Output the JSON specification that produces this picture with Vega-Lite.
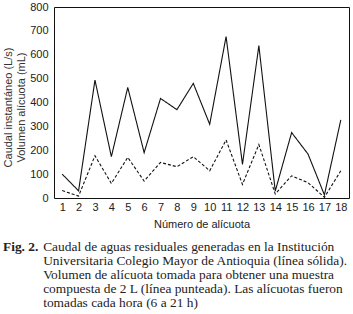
{
  "$schema": "https://vega.github.io/schema/vega-lite/v6.json",
  "autosize": "none",
  "width": 295,
  "height": 191,
  "padding": {"left": 54, "top": 7, "right": 4, "bottom": 116},
  "background": "white",
  "config": {
    "view": {"stroke": "#111", "strokeWidth": 1},
    "font": "Liberation Sans"
  },
  "title": {
    "text": "Fig. 2.",
    "subtitle": [
      "\u200b\u00a0\u00a0\u00a0\u00a0\u00a0\u00a0\u00a0\u00a0\u00a0\u00a0\u00a0\u00a0Caudal de aguas residuales generadas en la Institución",
      "\u200b\u00a0\u00a0\u00a0\u00a0\u00a0\u00a0\u00a0\u00a0\u00a0\u00a0\u00a0\u00a0Universitaria Colegio Mayor de Antioquia (línea sólida).",
      "\u200b\u00a0\u00a0\u00a0\u00a0\u00a0\u00a0\u00a0\u00a0\u00a0\u00a0\u00a0\u00a0Volumen de alícuota tomada para obtener una muestra",
      "\u200b\u00a0\u00a0\u00a0\u00a0\u00a0\u00a0\u00a0\u00a0\u00a0\u00a0\u00a0\u00a0compuesta de 2 L (línea punteada). Las alícuotas fueron",
      "\u200b\u00a0\u00a0\u00a0\u00a0\u00a0\u00a0\u00a0\u00a0\u00a0\u00a0\u00a0\u00a0tomadas cada hora (6 a 21 h)"
    ],
    "orient": "bottom",
    "anchor": "start",
    "frame": "group",
    "dx": -51,
    "offset": 11,
    "font": "Liberation Serif",
    "fontSize": 13.4,
    "fontWeight": "bold",
    "color": "#222",
    "subtitleFont": "Liberation Serif",
    "subtitleFontSize": 13.4,
    "subtitleColor": "#222",
    "subtitleLineHeight": 14,
    "subtitlePadding": -13.4
  },
  "data": {
    "values": [
      {"alicuota": 1, "serie": "Caudal", "valor": 100},
      {"alicuota": 2, "serie": "Caudal", "valor": 30},
      {"alicuota": 3, "serie": "Caudal", "valor": 494},
      {"alicuota": 4, "serie": "Caudal", "valor": 173},
      {"alicuota": 5, "serie": "Caudal", "valor": 463},
      {"alicuota": 6, "serie": "Caudal", "valor": 190},
      {"alicuota": 7, "serie": "Caudal", "valor": 417},
      {"alicuota": 8, "serie": "Caudal", "valor": 370},
      {"alicuota": 9, "serie": "Caudal", "valor": 480},
      {"alicuota": 10, "serie": "Caudal", "valor": 309},
      {"alicuota": 11, "serie": "Caudal", "valor": 676},
      {"alicuota": 12, "serie": "Caudal", "valor": 141},
      {"alicuota": 13, "serie": "Caudal", "valor": 638},
      {"alicuota": 14, "serie": "Caudal", "valor": 29},
      {"alicuota": 15, "serie": "Caudal", "valor": 274},
      {"alicuota": 16, "serie": "Caudal", "valor": 184},
      {"alicuota": 17, "serie": "Caudal", "valor": 13},
      {"alicuota": 18, "serie": "Caudal", "valor": 327},
      {"alicuota": 1, "serie": "Volumen", "valor": 31},
      {"alicuota": 2, "serie": "Volumen", "valor": 8},
      {"alicuota": 3, "serie": "Volumen", "valor": 177},
      {"alicuota": 4, "serie": "Volumen", "valor": 61},
      {"alicuota": 5, "serie": "Volumen", "valor": 170},
      {"alicuota": 6, "serie": "Volumen", "valor": 71},
      {"alicuota": 7, "serie": "Volumen", "valor": 149},
      {"alicuota": 8, "serie": "Volumen", "valor": 131},
      {"alicuota": 9, "serie": "Volumen", "valor": 173},
      {"alicuota": 10, "serie": "Volumen", "valor": 114},
      {"alicuota": 11, "serie": "Volumen", "valor": 243},
      {"alicuota": 12, "serie": "Volumen", "valor": 57},
      {"alicuota": 13, "serie": "Volumen", "valor": 224},
      {"alicuota": 14, "serie": "Volumen", "valor": 17},
      {"alicuota": 15, "serie": "Volumen", "valor": 93},
      {"alicuota": 16, "serie": "Volumen", "valor": 64},
      {"alicuota": 17, "serie": "Volumen", "valor": 3},
      {"alicuota": 18, "serie": "Volumen", "valor": 114}
    ]
  },
  "mark": {"type": "line", "color": "#111", "strokeWidth": 1.1},
  "encoding": {
    "x": {
      "field": "alicuota",
      "type": "ordinal",
      "sort": "ascending",
      "scale": {"type": "point", "padding": 0.5},
      "axis": {
        "title": "Número de alícuota",
        "labelAngle": 0,
        "ticks": false,
        "domain": false,
        "labelPadding": 3,
        "labelFontSize": 11,
        "labelColor": "#222",
        "titleFontSize": 11,
        "titleFontWeight": "normal",
        "titleColor": "#222",
        "titlePadding": 6
      }
    },
    "y": {
      "field": "valor",
      "type": "quantitative",
      "scale": {"domain": [0, 800], "nice": false},
      "axis": {
        "title": ["Caudal instantáneo (L/s)", "Volumen alícuota (mL)"],
        "values": [0, 100, 200, 300, 400, 500, 600, 700, 800],
        "grid": false,
        "ticks": false,
        "domain": false,
        "labelPadding": 6,
        "labelFontSize": 11,
        "labelColor": "#222",
        "titleFontSize": 11,
        "titleFontWeight": "normal",
        "titleColor": "#333",
        "titleLineHeight": 13.5,
        "titlePadding": 3,
        "titleY": 100
      }
    },
    "strokeDash": {
      "field": "serie",
      "type": "nominal",
      "scale": {"domain": ["Caudal", "Volumen"], "range": [[1, 0], [3, 2]]},
      "legend": null
    }
  }
}
